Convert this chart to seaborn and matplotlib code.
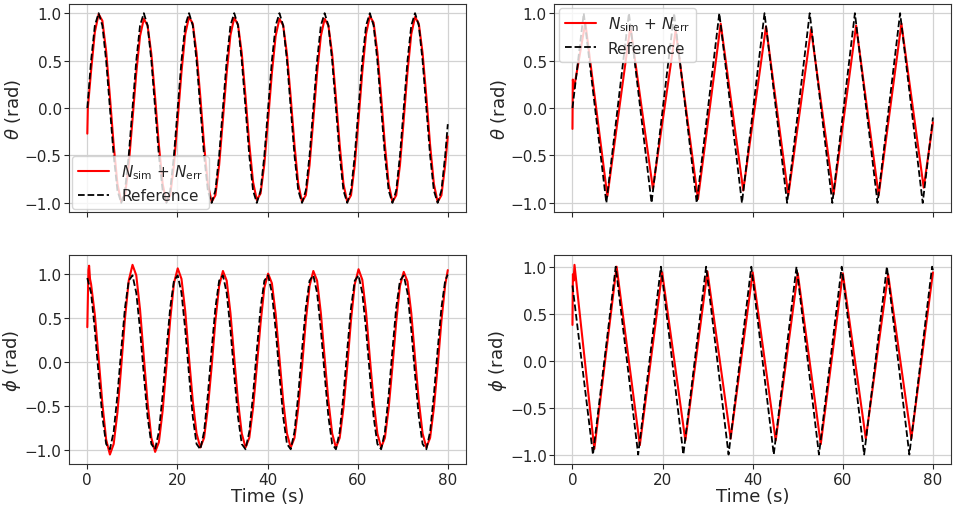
import numpy as np
import pandas as pd
import seaborn as sns
import matplotlib.pyplot as plt

# sample times (s) for the smooth curves of the left column
t_grid = np.append(np.arange(96) * 0.836, 80.0)

# left column - reference theta (dashed curve)
theta_ref_left = [
    0.00, 0.50, 0.87, 1.00, 0.87, 0.50, 0.00, -0.50, -0.87, -1.00, -0.87, -0.50,
    0.00, 0.50, 0.87, 1.00, 0.87, 0.50, 0.00, -0.50, -0.87, -1.00, -0.87, -0.50,
    0.00, 0.50, 0.87, 1.00, 0.87, 0.50, 0.00, -0.50, -0.87, -1.00, -0.87, -0.50,
    0.00, 0.50, 0.87, 1.00, 0.87, 0.50, 0.00, -0.50, -0.87, -1.00, -0.87, -0.50,
    0.00, 0.50, 0.87, 1.00, 0.87, 0.50, 0.00, -0.50, -0.87, -1.00, -0.87, -0.50,
    0.00, 0.50, 0.87, 1.00, 0.87, 0.50, 0.00, -0.50, -0.87, -1.00, -0.87, -0.50,
    0.00, 0.50, 0.87, 1.00, 0.87, 0.50, 0.00, -0.50, -0.87, -1.00, -0.87, -0.50,
    0.00, 0.50, 0.87, 1.00, 0.87, 0.50, 0.00, -0.50, -0.87, -1.00, -0.87, -0.50,
    -0.17]

# left column - simulated theta (red curve)
t_theta_sim_left = np.concatenate([[0.0, 0.12], t_grid[1:]])
theta_sim_left = [
    -0.27, 0.00,
    0.39, 0.80, 0.99, 0.92, 0.60, 0.12, -0.39, -0.80, -0.99, -0.92, -0.60,
    -0.12, 0.37, 0.76, 0.94, 0.87, 0.57, 0.11, -0.39, -0.80, -0.99, -0.92, -0.60,
    -0.12, 0.38, 0.78, 0.96, 0.89, 0.58, 0.12, -0.39, -0.80, -0.99, -0.92, -0.60,
    -0.12, 0.37, 0.77, 0.95, 0.88, 0.58, 0.12, -0.38, -0.78, -0.97, -0.90, -0.59,
    -0.12, 0.37, 0.76, 0.94, 0.87, 0.57, 0.11, -0.39, -0.80, -0.99, -0.92, -0.60,
    -0.12, 0.37, 0.76, 0.94, 0.87, 0.57, 0.11, -0.39, -0.80, -0.99, -0.92, -0.60,
    -0.12, 0.38, 0.78, 0.97, 0.90, 0.59, 0.12, -0.39, -0.80, -0.99, -0.92, -0.60,
    -0.12, 0.38, 0.78, 0.96, 0.89, 0.58, 0.12, -0.39, -0.80, -0.99, -0.92, -0.60,
    -0.30]

# left column - reference phi
phi_ref_left = [
    0.96, 0.79, 0.37, -0.14, -0.62, -0.93, -0.99, -0.79, -0.37, 0.14, 0.62, 0.93,
    0.99, 0.79, 0.37, -0.14, -0.62, -0.93, -0.99, -0.79, -0.37, 0.14, 0.62, 0.93,
    0.99, 0.79, 0.37, -0.14, -0.62, -0.93, -0.99, -0.79, -0.37, 0.14, 0.62, 0.93,
    0.99, 0.79, 0.37, -0.14, -0.62, -0.93, -0.99, -0.79, -0.37, 0.14, 0.62, 0.93,
    0.99, 0.79, 0.37, -0.14, -0.62, -0.93, -0.99, -0.79, -0.37, 0.14, 0.62, 0.93,
    0.99, 0.79, 0.37, -0.14, -0.62, -0.93, -0.99, -0.79, -0.37, 0.14, 0.62, 0.93,
    0.99, 0.79, 0.37, -0.14, -0.62, -0.93, -0.99, -0.79, -0.37, 0.14, 0.62, 0.93,
    0.99, 0.79, 0.37, -0.14, -0.62, -0.93, -0.99, -0.79, -0.37, 0.14, 0.62, 0.93,
    1.00]

# left column - simulated phi
t_phi_sim_left = np.concatenate([[0.0, 0.25, 0.40, 0.60], t_grid[1:]])
phi_sim_left = [
    0.40, 1.05, 1.10, 0.95,
    0.89, 0.54, 0.05, -0.47, -0.88, -1.05, -0.93, -0.57, -0.05, 0.50, 0.93,
    1.11, 0.99, 0.60, 0.06, -0.46, -0.86, -1.02, -0.91, -0.55, -0.05, 0.48, 0.90,
    1.07, 0.95, 0.58, 0.05, -0.44, -0.81, -0.97, -0.86, -0.52, -0.05, 0.47, 0.87,
    1.04, 0.93, 0.56, 0.05, -0.44, -0.81, -0.97, -0.86, -0.52, -0.05, 0.45, 0.85,
    1.01, 0.90, 0.55, 0.05, -0.44, -0.81, -0.97, -0.86, -0.52, -0.05, 0.47, 0.87,
    1.04, 0.93, 0.56, 0.05, -0.44, -0.81, -0.97, -0.86, -0.52, -0.05, 0.48, 0.89,
    1.06, 0.94, 0.57, 0.05, -0.44, -0.81, -0.97, -0.86, -0.52, -0.05, 0.46, 0.87,
    1.03, 0.92, 0.56, 0.05, -0.44, -0.81, -0.97, -0.86, -0.52, -0.05, 0.47, 0.88,
    1.05]

# right column - triangle waves, corner points
t_theta_ref_right = [0.0, 2.50, 7.52, 12.53, 17.55, 22.56, 27.58, 32.59, 37.61,
                     42.62, 47.64, 52.65, 57.67, 62.68, 67.70, 72.71, 77.73, 80.0]
theta_ref_right = [0.0, 1, -1, 1, -1, 1, -1, 1, -1, 1, -1, 1, -1, 1, -1, 1, -1, -0.10]

t_theta_sim_right = [0.0, 0.08, 0.35, 0.60, 2.85, 7.75, 12.85, 17.85, 22.90, 27.85, 32.90,
                     37.90, 42.95, 47.90, 52.95, 57.95, 62.95, 67.95, 73.00, 77.95, 80.0]
theta_sim_right = [-0.22, 0.30, 0.20, 0.28, 0.90, -0.93, 0.86, -0.85, 0.82, -0.96, 0.89,
                   -0.87, 0.86, -0.92, 0.83, -0.91, 0.87, -0.92, 0.89, -0.84, -0.15]

t_phi_ref_right = [0.0, 4.55, 9.60, 14.58, 19.63, 24.61, 29.66, 34.64, 39.69,
                   44.67, 49.72, 54.70, 59.75, 64.73, 69.78, 74.76, 79.81, 80.0]
phi_ref_right = [0.80, -1, 1, -1, 1, -1, 1, -1, 1, -1, 1, -1, 1, -1, 1, -1, 1, 0.96]

t_phi_sim_right = [0.0, 0.10, 0.25, 0.45, 4.85, 9.80, 14.95, 19.90, 25.05, 29.95,
                   35.10, 40.00, 45.10, 50.00, 55.10, 60.00, 65.10, 70.05, 75.20, 80.0]
phi_sim_right = [0.38, 0.92, 0.85, 1.02, -0.94, 1.00, -0.90, 0.94, -0.85, 0.95,
                 -0.83, 0.94, -0.85, 0.93, -0.89, 0.93, -0.83, 0.92, -0.83, 0.94]

sim_label = r'$N_\mathrm{sim}$ + $N_\mathrm{err}$'

sns.set_style('ticks', {'axes.grid': True, 'grid.color': '#d2d2d2', 'axes.edgecolor': '#333333'})
plt.rcParams['font.family'] = ['DejaVu Sans']
plt.rcParams['xtick.labelsize'] = 11
plt.rcParams['ytick.labelsize'] = 11
plt.rcParams['axes.labelsize'] = 13

fig, axes = plt.subplots(2, 2, figsize=(9.57, 5.1), dpi=100, sharex='col')
fig.subplots_adjust(left=0.0724, right=0.9937, top=0.9908, bottom=0.0882,
                    wspace=0.2235, hspace=0.206)

panels = [
    (axes[0, 0], t_theta_sim_left, theta_sim_left, t_grid, theta_ref_left, r'$\theta$ (rad)'),
    (axes[0, 1], t_theta_sim_right, theta_sim_right, t_theta_ref_right, theta_ref_right, r'$\theta$ (rad)'),
    (axes[1, 0], t_phi_sim_left, phi_sim_left, t_grid, phi_ref_left, r'$\phi$ (rad)'),
    (axes[1, 1], t_phi_sim_right, phi_sim_right, t_phi_ref_right, phi_ref_right, r'$\phi$ (rad)'),
]

for ax, ts, ys, tr, yr, ylab in panels:
    sns.lineplot(x=ts, y=ys, ax=ax, color='red', linewidth=1.5,
                 estimator=None, sort=False, label=sim_label)
    sns.lineplot(x=tr, y=yr, ax=ax, color='black', linewidth=1.3, linestyle='--',
                 estimator=None, sort=False, label='Reference')
    ax.set_ylabel(ylab, labelpad=1)
    ax.grid(True, linewidth=0.9)
    ax.tick_params(length=3.5, pad=2)
    ax.get_legend().remove()

axes[0, 0].legend(loc='lower left', fontsize=11, borderaxespad=0.2)
axes[0, 1].legend(loc='upper left', fontsize=11, borderaxespad=0.3)
axes[1, 0].set_xlabel('Time (s)', labelpad=0)
axes[1, 1].set_xlabel('Time (s)', labelpad=0)
axes[0, 0].set_xlabel('')
axes[0, 1].set_xlabel('')

plt.savefig('out.png', dpi=100)
